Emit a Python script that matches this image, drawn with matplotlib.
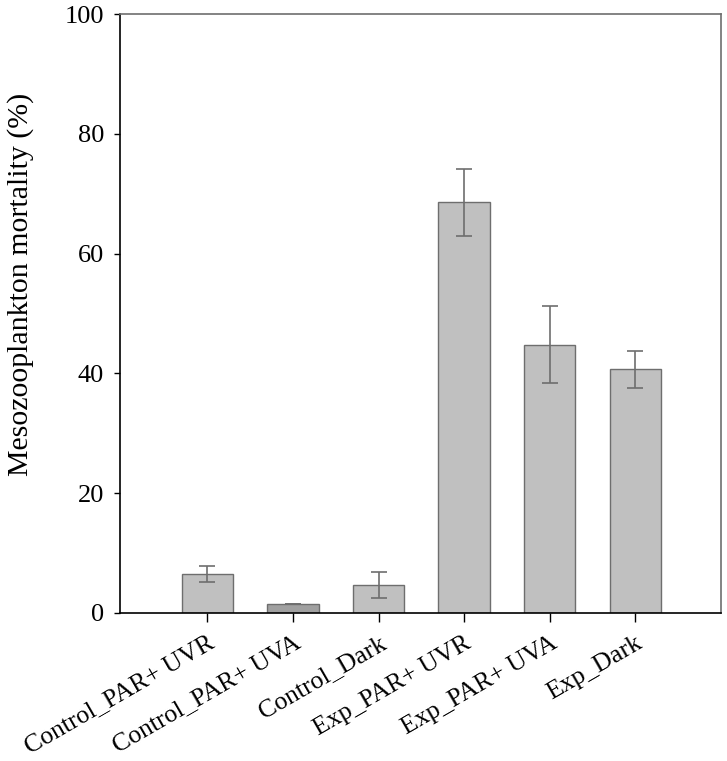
import numpy as np
import matplotlib
matplotlib.use('agg')
import matplotlib.pyplot as plt

plt.rcParams['font.family'] = ['Liberation Serif', 'DejaVu Serif']

# treatment groups and mortality (%)
groups = ["Control_PAR+ UVR", "Control_PAR+ UVA", "Control_Dark",
          "Exp_PAR+ UVR", "Exp_PAR+ UVA", "Exp_Dark"]
mortality = [6.5, 1.5, 4.7, 68.6, 44.8, 40.7]
err = [1.4, 0.05, 2.2, 5.6, 6.4, 3.1]
fills = ["#c0c0c0", "#a0a0a0", "#c0c0c0", "#c0c0c0", "#c0c0c0", "#c0c0c0"]

fig = plt.figure(figsize=(7.27, 7.61), dpi=100)
ax = fig.add_axes([0.165, 0.1945, 0.8267, 0.7871])

x = np.arange(len(groups))
ax.bar(x, mortality, width=0.6, color=fills, edgecolor="#6e6e6e", linewidth=1.0,
       yerr=err, error_kw=dict(ecolor="#6e6e6e", elinewidth=1.2, capsize=6, capthick=1.2))

ax.set_xlim(-1.02, 6.0)
ax.set_ylim(0, 100)
ax.set_yticks([0, 20, 40, 60, 80, 100])
ax.set_xticks(x)
ax.set_xticklabels(groups, rotation=30, ha='right', va='top', rotation_mode='anchor')
ax.tick_params(axis='y', direction='out', length=4.5, width=1, labelsize=19, pad=7)
ax.tick_params(axis='x', direction='out', length=6.5, width=1, labelsize=18.5, pad=7)
ax.set_ylabel("Mesozooplankton mortality (%)", fontsize=21.5)
ax.yaxis.set_label_coords(-0.143, 0.548)

ax.spines['top'].set_color("#6e6e6e")
ax.spines['right'].set_color("#6e6e6e")
for s in ax.spines.values():
    s.set_linewidth(1.2)

fig.savefig("out.png", dpi=100)
